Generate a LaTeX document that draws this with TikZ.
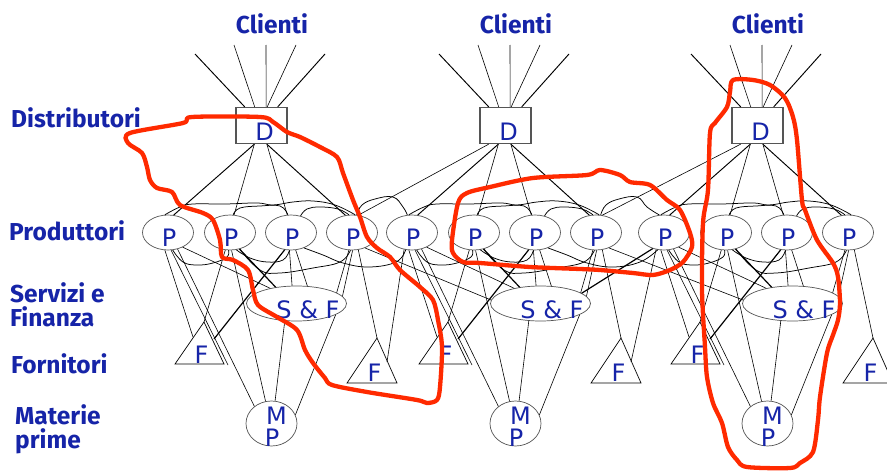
\documentclass[tikz,border=0pt]{standalone}
\usepackage{fontspec}
\newfontfamily\labfont{DejaVu Sans}
\newfontfamily\sidefont{Fira Sans}
\usetikzlibrary{shapes.geometric}
\definecolor{lblue}{RGB}{22,36,168}
\definecolor{rred}{RGB}{255,42,0}
\definecolor{egray}{RGB}{85,85,85}
\begin{document}
\begin{tikzpicture}[x=1pt,y=-1pt,
  ln/.style={line width=0.6pt},
  md/.style={line width=0.95pt},
  tk/.style={line width=1.2pt},
  wv/.style={line width=0.75pt},
  pell/.style={ellipse,draw=egray,fill=white,line width=0.7pt,minimum width=51pt,minimum height=35pt,inner sep=0pt},
  sfell/.style={pell,minimum width=100pt,minimum height=35pt},
  mpell/.style={pell,minimum width=51pt,minimum height=45pt},
  dbox/.style={draw=egray,fill=white,line width=1.3pt,minimum width=51pt,minimum height=36pt,inner sep=0pt},
  lab/.style={text=lblue,font=\labfont\fontsize{24}{26}\selectfont,inner sep=0pt,anchor=base},
  side/.style={text=lblue,font=\sidefont\bfseries\fontsize{24.5}{26}\selectfont,inner sep=0pt,anchor=base west},
  tri/.style={line width=0.7pt,line join=miter},
  redloop/.style={draw=rred,line width=4.3pt,line join=round,line cap=round}]
\useasboundingbox (0,0) rectangle (887,471);
\fill[white] (0,0) rectangle (887,471);

% side labels
\node[side] (lDis) at (11,127) {Distributori};
\node[side] (lPro) at (9,240) {Produttori};
\node[side] (lSer) at (10,302) {Servizi e};
\node[side] (lFin) at (10,326) {Finanza};
\node[side] (lFor) at (11,373) {Fornitori};
\node[side] (lMat) at (15,424) {Materie};
\node[side] (lPri) at (15,448) {prime};

\foreach \c/\dx in {1/0,2/244,3/496}{
\begin{scope}[xshift=\dx]
  \node[dbox] (D\c) at (261.5,125.5) {};
  \node[lab] (Dt\c) at (264.5,140) {D};
  \node[side,anchor=base] (C\c) at (272,33) {Clienti};
  \foreach \i/\x in {1/168,2/230,3/291,4/352}{
    \node[pell] (P\c-\i) at (\x,232.5) {};
    \node[lab] (Pt\c-\i) at (\x+1,246) {P};
  }
  \node[sfell] (SF\c) at (296.5,303.5) {};
  \node[lab] (SFt\c) at (308,318) {S \& F};
  \node[mpell] (MP\c) at (271.5,423.5) {};
  \node[lab] (Mt\c) at (276.5,424) {M};
  \node[lab] (Mp\c) at (272,446) {P};
  % triangles
  \coordinate (FAa\c) at (204,322); \coordinate (FAl\c) at (175,364); \coordinate (FAr\c) at (224,364);
  \draw[tri] (FAa\c) -- (FAl\c) -- (FAr\c) -- cycle;
  \node[lab] (FAt\c) at (201.5,363) {F};
  \coordinate (FBa\c) at (377,338); \coordinate (FBl\c) at (347,383); \coordinate (FBr\c) at (397,383);
  \draw[tri] (FBa\c) -- (FBl\c) -- (FBr\c) -- cycle;
  \node[lab] (FBt\c) at (374.5,381) {F};
  % clients
  \coordinate (ct\c-1) at (195,54); \coordinate (ct\c-2) at (234,45); \coordinate (ct\c-3) at (266,45);
  \coordinate (ct\c-4) at (296,45); \coordinate (ct\c-5) at (325,54);
  \draw[md] (ct\c-1) -- (D\c.132.5);
  \draw[ln] (ct\c-2) -- (D\c.110);
  \draw[ln] (ct\c-3) -- (D\c.76);
  \draw[ln] (ct\c-4) -- (D\c.73);
  \draw[md] (ct\c-5) -- (D\c.49);
  % distributor to producers
  \draw[md] (D\c.-111) -- (P\c-1.72);
  \draw[ln] (D\c.-111) -- (P\c-2.77);
  \draw[ln] (D\c.-74) -- (P\c-3.102);
  \draw[md] (D\c.-74) -- (P\c-4.111);
  % lines downward
  \coordinate (e\c-1) at (193,337);
  \coordinate (e\c-2) at (228,365);
  \coordinate (e\c-4) at (214,339);
  \draw[ln] (P\c-1.-100) -- (e\c-1);
  \draw[ln] (P\c-1.-80) -- (e\c-2);
  \draw[ln] (P\c-1.-60) -- (MP\c.135);
  \draw[ln] (P\c-1.-45) -- (SF\c.150);
  \draw[ln] (P\c-2.-105) -- (FAa\c);
  \draw[ln] (P\c-2.-85) -- (MP\c.105);
  \draw[tk] (P\c-2.-60) -- (SF\c.142);
  \draw[tk] (P\c-3.-110) -- (e\c-4);
  \draw[ln] (P\c-3.-95) -- (SF\c.104);
  \draw[ln] (P\c-3.-75) -- (SF\c.58);
  \draw[ln] (P\c-4.-100) -- (SF\c.15);
  \draw[ln] (P\c-4.-88) -- (SF\c.9);
  \draw[ln] (P\c-4.-70) -- (FBa\c);
  \draw[ln] (SF\c.-124) -- (MP\c.81);
  \draw[ln] (SF\c.-16) -- (MP\c.20);
  % wavy links
  \draw[wv] plot[smooth,tension=0.7] coordinates {(P\c-1.100) (180,207) (193,204) (225,204) (257,203) (273,205) (293,202) (313,201) (335,205) (P\c-4.80)};
  \draw[wv] plot[smooth,tension=0.7] coordinates {(P\c-2.80) (240,208) (260,206) (280,206) (P\c-3.100)};
  \draw[wv] plot[smooth,tension=0.7] coordinates {(P\c-3.60) (307,209) (320,207) (338,209) (P\c-4.100)};
  \draw[wv] plot[smooth,tension=0.7] coordinates {(P\c-1.-75) (183,262) (197,265) (213,263) (227,257) (P\c-2.-95)};
  \draw[wv] plot[smooth,tension=0.7] coordinates {(P\c-2.-70) (250,258) (267,262) (283,260) (P\c-3.-95)};
  \draw[wv] plot[smooth,tension=0.7] coordinates {(P\c-2.-60) (260,270) (280,273) (313,268) (340,262) (P\c-4.-95)};
\end{scope}
}

% links between neighbouring clusters
\foreach \c/\n/\dx in {1/2/0,2/3/244}{
\begin{scope}[xshift=\dx]
  \coordinate (x\c-1) at (387,362);
  \draw[ln] (D\n.-132) -- (P\c-4.70);
  \draw[ln] (P\c-4.-50) -- (SF\n.176);
  \draw[ln] (P\n-1.-115) -- (x\c-1);
  \draw[wv] plot[smooth,tension=0.7] coordinates {(P\c-4.75) (362,205) (375,199) (393,197) (403,207) (P\n-1.105)};
  \draw[wv] plot[smooth,tension=0.7] coordinates {(P\c-3.-50) (323,255) (343,263) (369,267) (396,262) (P\n-1.-110)};
\end{scope}
}
\draw[tk] (P3-1.-125) -- (SF2.14);

% red hand-drawn loops
\draw[redloop] plot[smooth cycle,tension=0.5] coordinates {(300,137) (287,132) (273,122) (260,117) (192,117) (183,123) (130,133) (128,143) (142,153) (147,167) (150,180) (157,188) (172,192) (180,205) (203,213) (213,220) (220,240) (222,257) (233,260) (248,270) (253,290) (258,305) (277,317) (297,330) (305,350) (313,363) (325,378) (332,385) (367,392) (417,400) (427,403) (437,400) (440,387) (442,347) (438,320) (433,300) (420,287) (400,270) (390,257) (377,248) (367,237) (360,217) (353,200) (343,173) (337,157) (320,147)};
\draw[redloop] plot[smooth cycle,tension=0.5] coordinates {(458,203) (467,193) (490,187) (533,178) (587,175) (600,170) (620,175) (630,182) (650,185) (667,200) (680,210) (690,233) (692,247) (683,262) (670,270) (653,275) (633,273) (600,270) (580,269) (530,267) (480,263) (463,262) (453,253) (452,240)};
\draw[redloop] plot[smooth cycle,tension=0.5] coordinates {(733,80) (753,80) (770,85) (785,98) (793,117) (797,140) (802,200) (805,210) (817,240) (833,263) (838,277) (840,303) (838,320) (833,335) (827,353) (820,397) (818,420) (813,452) (800,463) (790,468) (747,467) (737,460) (728,447) (722,423) (713,403) (707,377) (705,347) (702,290) (703,223) (708,190) (710,133) (715,123) (727,107) (730,92)};
\end{tikzpicture}
\end{document}
